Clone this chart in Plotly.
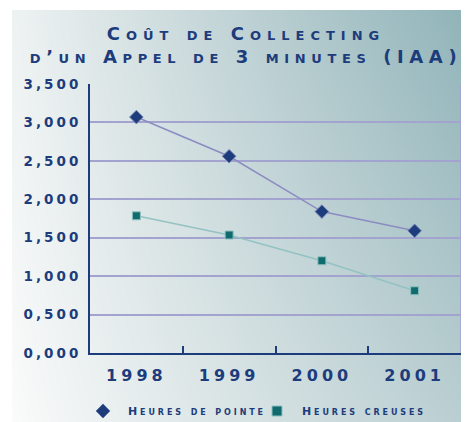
import plotly.graph_objects as go

# ---- data ----
years = ["1998", "1999", "2000", "2001"]
heures_pointe = [3.07, 2.56, 1.84, 1.59]
heures_creuses = [1.785, 1.535, 1.20, 0.81]
y_tick_vals = [0, 0.5, 1.0, 1.5, 2.0, 2.5, 3.0, 3.5]
y_tick_text = ["0,000", "0,500", "1,000", "1,500", "2,000", "2,500", "3,000", "3,500"]
title_lines = ["Coût de Collecting", "d’un Appel de 3 minutes (IAA)"]
series_names = ["Heures de pointe", "Heures creuses"]

NAVY = "#1d3c7b"
TEAL = "#0f6b6e"
GRID = "#a3a3cf"
FONT = "DejaVu Sans"

# the page body has an 8px default margin: work in page pixels, convert
OFF = 8
W, H = 469 - OFF, 422 - OFF
ML, MT = 12 - OFF, 10 - OFF
PW, PH = W - ML, H - MT


def fx(px):  # page x -> figure x
    return px - OFF


def fy(py):  # page y -> figure y
    return py - OFF


def sp(text, ls):
    return f"<span style='letter-spacing:{ls}px'>{text}</span>"


fig = go.Figure()

# background gradient (decoration)
fig.add_trace(go.Heatmap(
    z=[[0.0, 0.6], [0.1, 1.0]], x=[0, 1], y=[0, 1],
    zsmooth="best", showscale=False, hoverinfo="skip",
    zmin=0, zmax=1,
    colorscale=[[0.0, "#fafbfb"], [0.1, "#eef2f2"], [0.6, "#b9ced1"], [1.0, "#8fb3b8"]],
    xaxis="x", yaxis="y",
))

fig.add_trace(go.Scatter(
    x=years, y=heures_pointe, mode="lines+markers", showlegend=False,
    line=dict(color="#8c8cc2", width=1.5),
    marker=dict(symbol="diamond", size=10.5, color=NAVY, line=dict(color="#7a86b8", width=1)),
    xaxis="x2", yaxis="y2",
))
fig.add_trace(go.Scatter(
    x=years, y=heures_creuses, mode="lines+markers", showlegend=False,
    line=dict(color="#94c2c2", width=1.5),
    marker=dict(symbol="square", size=8, color=TEAL, line=dict(color="#8fc0c0", width=1)),
    xaxis="x2", yaxis="y2",
))
# legend entries (markers only)
fig.add_trace(go.Scatter(
    x=[None], y=[None], mode="markers", name=sp(series_names[0], 2.9),
    marker=dict(symbol="diamond", size=11, color=NAVY),
    xaxis="x2", yaxis="y2",
))
fig.add_trace(go.Scatter(
    x=[None], y=[None], mode="markers", name=sp(series_names[1], 2.9),
    marker=dict(symbol="square", size=10, color=TEAL, line=dict(color="#8fc0c0", width=1)),
    xaxis="x2", yaxis="y2",
))

x0, x1 = fx(90), fx(461)
ytop, ybot = fy(84), fy(353)

fig.update_layout(
    width=W, height=H,
    margin=dict(l=ML, r=0, t=MT, b=0, pad=0, autoexpand=False),
    paper_bgcolor="white",
    plot_bgcolor="rgba(0,0,0,0)",
    font=dict(family=FONT, color=NAVY),
    title=dict(
        text=sp(title_lines[0], 6) + "<br>" + sp(title_lines[1], 5.6),
        x=fx(246) / W, xref="container", xanchor="center",
        y=1 - fy(40) / H, yref="container", yanchor="top",
        font=dict(family=FONT, size=18, color=NAVY, weight="bold", variant="small-caps"),
    ),
    xaxis=dict(domain=[0, 1], range=[0, 1], visible=False, fixedrange=True),
    yaxis=dict(domain=[0, 1], range=[0, 1], visible=False, fixedrange=True),
    xaxis2=dict(
        domain=[(x0 - ML) / PW, (x1 - ML) / PW], anchor="y2",
        type="category", categoryorder="array", categoryarray=years,
        range=[-0.5, 3.5],
        showgrid=False, showline=True, linecolor=NAVY, linewidth=2,
        ticks="inside", tickson="boundaries", ticklen=7, tickwidth=2, tickcolor=NAVY,
        tickvals=years, ticktext=[sp(y, 4) for y in years],
        tickfont=dict(family=FONT, size=16, color=NAVY, weight="bold"),
        ticklabelstandoff=7,
    ),
    yaxis2=dict(
        domain=[(H - ybot) / PH, (H - ytop) / PH], anchor="x2",
        range=[0, 3.5],
        tickvals=y_tick_vals, ticktext=[sp(t, 3) for t in y_tick_text],
        showgrid=True, gridcolor=GRID, gridwidth=1.5,
        zeroline=False,
        showline=True, linecolor=NAVY, linewidth=2,
        ticks="", ticklabelstandoff=4,
        tickfont=dict(family=FONT, size=13.5, color=NAVY, weight="bold"),
    ),
    showlegend=True,
    legend=dict(
        orientation="h", x=fx(78) / W, xref="container", xanchor="left",
        y=1 - fy(411) / H, yref="container", yanchor="middle",
        bgcolor="rgba(0,0,0,0)",
        font=dict(family=FONT, size=11, color=NAVY, weight="bold", variant="small-caps"),
        itemwidth=40,
        entrywidth=119, entrywidthmode="pixels",
        itemclick=False, itemdoubleclick=False,
    ),
    shapes=[
        dict(type="line", xref="x2 domain", yref="y2 domain", x0=1, x1=1, y0=0, y1=1,
             line=dict(color=GRID, width=1.5)),
    ],
)

fig.write_html("out.html")
